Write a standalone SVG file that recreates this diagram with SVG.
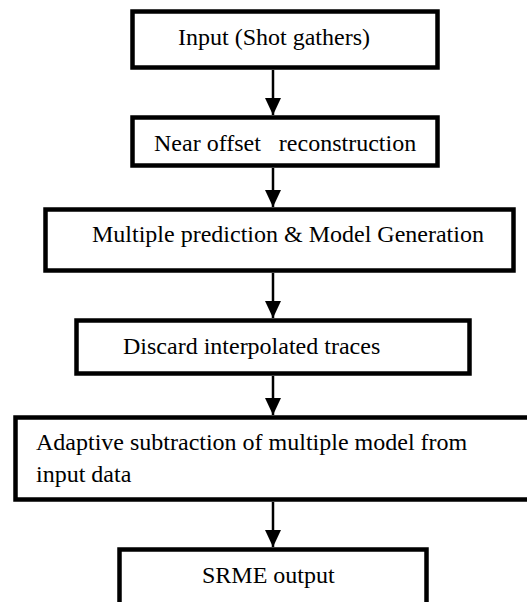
<svg xmlns="http://www.w3.org/2000/svg" width="527" height="602" viewBox="0 0 527 602">
<style>
.box{fill:#fff;stroke:#000;stroke-width:4.5}
.t{font-size:24px;fill:#000;white-space:pre}
.c{stroke:#000;stroke-width:2.5;fill:none}
</style>
<defs>
<marker id="ah" viewBox="0 0 17 16" refX="17" refY="8" markerWidth="17" markerHeight="16" markerUnits="userSpaceOnUse" orient="auto">
<path d="M0,0 L17,8 L0,16 z" fill="#000"/>
</marker>
</defs>
<rect width="527" height="602" fill="#fff"/>
<g id="connectors">
<line class="c" x1="273" y1="70" x2="273" y2="115" marker-end="url(#ah)"/>
<line class="c" x1="273" y1="168" x2="273" y2="207" marker-end="url(#ah)"/>
<line class="c" x1="273" y1="273" x2="273" y2="318" marker-end="url(#ah)"/>
<line class="c" x1="273" y1="376" x2="273" y2="415" marker-end="url(#ah)"/>
<line class="c" x1="273" y1="502" x2="273" y2="547" marker-end="url(#ah)"/>
</g>
<g font-family="'Liberation Serif', 'Times New Roman', serif">
<g id="n1">
<rect class="box" x="132.5" y="11.5" width="305" height="56"/>
<text class="t" x="178" y="45">Input (Shot gathers)</text>
</g>
<g id="n2">
<rect class="box" x="132.5" y="117.5" width="305" height="48"/>
<text class="t" x="154" y="150.5" xml:space="preserve">Near offset   reconstruction</text>
</g>
<g id="n3">
<rect class="box" x="45.5" y="209.5" width="468" height="61"/>
<text class="t" x="92" y="241.5">Multiple prediction &amp; Model Generation</text>
</g>
<g id="n4">
<rect class="box" x="76.5" y="320.5" width="393" height="53"/>
<text class="t" x="123" y="354">Discard interpolated traces</text>
</g>
<g id="n5">
<rect class="box" x="15.5" y="417.5" width="520" height="82"/>
<text class="t" x="36" y="450">Adaptive subtraction of multiple model from</text>
<text class="t" x="36" y="481.5">input data</text>
</g>
<g id="n6">
<rect class="box" x="119.5" y="549.5" width="307" height="70"/>
<text class="t" x="202" y="583">SRME output</text>
</g>
</g>
</svg>
